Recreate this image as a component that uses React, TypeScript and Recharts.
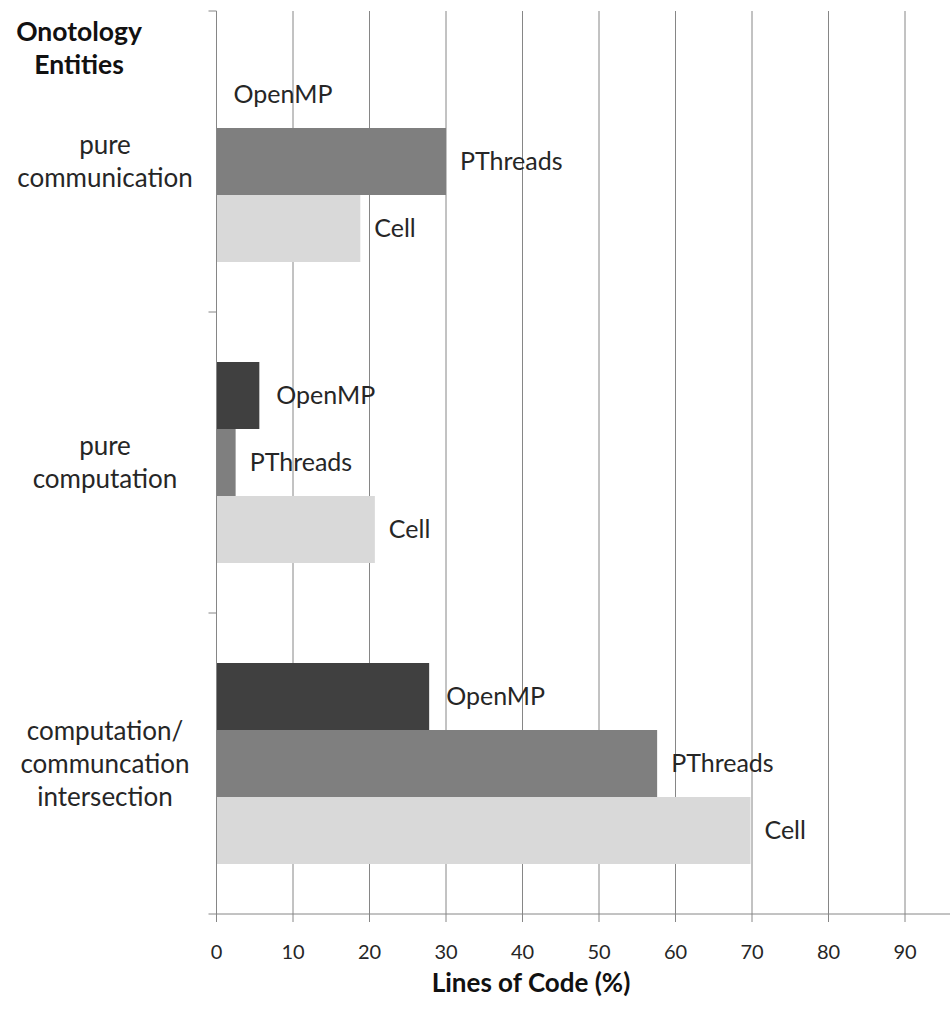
import React from 'react';
import { BarChart, Bar, XAxis, YAxis, CartesianGrid, LabelList, Label } from 'recharts';

// Ontology entity categories (line breaks mark wrapped axis labels)
const categories = [
  'pure\ncommunication',
  'pure\ncomputation',
  'computation/\ncommuncation\nintersection',
];

// Share of lines of code (%) per programming model
const openmpValues = [0, 5.6, 27.8];
const pthreadsValues = [30, 2.5, 57.6];
const cellValues = [18.8, 20.7, 69.8];

const xTicks = [0, 10, 20, 30, 40, 50, 60, 70, 80, 90];

const data = categories.map((name, i) => ({
  name,
  openmp: openmpValues[i],
  pthreads: pthreadsValues[i],
  cell: cellValues[i],
}));

const FONT = 'Lato, "Open Sans", sans-serif';
const AXIS_GRAY = '#868686';
const TEXT = '#262626';
const Y_AXIS_WIDTH = 216.5;
const CHART_W = 1000;
const CHART_H = 1009;
const PLOT_TOP = 11;
const X_AXIS_H = 95;

const CategoryTick = (props: any) => {
  const { y, payload, index } = props;
  const plotH = CHART_H - PLOT_TOP - X_AXIS_H;
  const half = payload && typeof payload.offset === 'number' && payload.offset > 0
    ? payload.offset
    : plotH / categories.length / 2;
  const lines = String(payload.value).split('\n');
  const lineH = 33;
  const startY = y - ((lines.length - 1) * lineH) / 2;
  const ax = Y_AXIS_WIDTH;
  return (
    <g>
      <line x1={ax - 8} x2={ax} y1={y - half} y2={y - half} stroke={AXIS_GRAY} strokeWidth={1} />
      {index === categories.length - 1 && (
        <line x1={ax - 8} x2={ax} y1={y + half} y2={y + half} stroke={AXIS_GRAY} strokeWidth={1} />
      )}
      <text textAnchor="middle" fontSize={26} fill={TEXT} fontFamily={FONT}>
        {lines.map((l, i) => (
          <tspan key={i} x={105} y={startY + i * lineH} dy="0.35em">
            {l}
          </tspan>
        ))}
      </text>
    </g>
  );
};

const YTitle = () => (
  <text fontSize={26.5} fontWeight="bold" fill="#111" fontFamily={FONT} textAnchor="middle">
    <tspan x={79} y={32} dy="0.35em">Onotology</tspan>
    <tspan x={79} y={65} dy="0.35em">Entities</tspan>
  </text>
);

const XTitle = (props: any) => {
  const vb = props.viewBox || { x: Y_AXIS_WIDTH, y: CHART_H - X_AXIS_H };
  return (
    <text
      x={vb.x + 314.5}
      y={vb.y + 69}
      dy="0.35em"
      textAnchor="middle"
      fontSize={26}
      fontWeight="bold"
      fill="#111"
      fontFamily={FONT}
    >
      Lines of Code (%)
    </text>
  );
};

const labelStyle = { fontSize: 25, fill: TEXT, fontFamily: FONT };

export default function App() {
  return (
    <div
      style={{
        position: 'absolute',
        left: 0,
        top: 0,
        width: 950,
        height: 1009,
        overflow: 'hidden',
        background: '#ffffff',
      }}
    >
      <BarChart
        width={CHART_W}
        height={CHART_H}
        data={data}
        layout="vertical"
        margin={{ top: PLOT_TOP, right: 18.5, bottom: 0, left: 0 }}
        barCategoryGap="16.6%"
        barGap={0}
      >
        <CartesianGrid horizontal={false} stroke={AXIS_GRAY} strokeWidth={1} />
        <XAxis
          type="number"
          domain={[0, 100]}
          ticks={xTicks}
          interval={0}
          height={X_AXIS_H}
          stroke={AXIS_GRAY}
          tickSize={8}
          tickMargin={23}
          tick={{ fontSize: 20, fill: TEXT, fontFamily: FONT }}
        >
          <Label content={<XTitle />} />
        </XAxis>
        <YAxis
          type="category"
          dataKey="name"
          width={Y_AXIS_WIDTH}
          stroke={AXIS_GRAY}
          tickLine={false}
          interval={0}
          tick={<CategoryTick />}
        >
          <Label content={<YTitle />} />
        </YAxis>
        <Bar dataKey="openmp" name="OpenMP" fill="#404040" minPointSize={0.01} isAnimationActive={false}>
          <LabelList dataKey="openmp" position="right" offset={17} formatter={() => 'OpenMP'} {...labelStyle} />
        </Bar>
        <Bar dataKey="pthreads" name="PThreads" fill="#7f7f7f" isAnimationActive={false}>
          <LabelList dataKey="pthreads" position="right" offset={14} formatter={() => 'PThreads'} {...labelStyle} />
        </Bar>
        <Bar dataKey="cell" name="Cell" fill="#d9d9d9" isAnimationActive={false}>
          <LabelList dataKey="cell" position="right" offset={14} formatter={() => 'Cell'} {...labelStyle} />
        </Bar>
      </BarChart>
    </div>
  );
}
